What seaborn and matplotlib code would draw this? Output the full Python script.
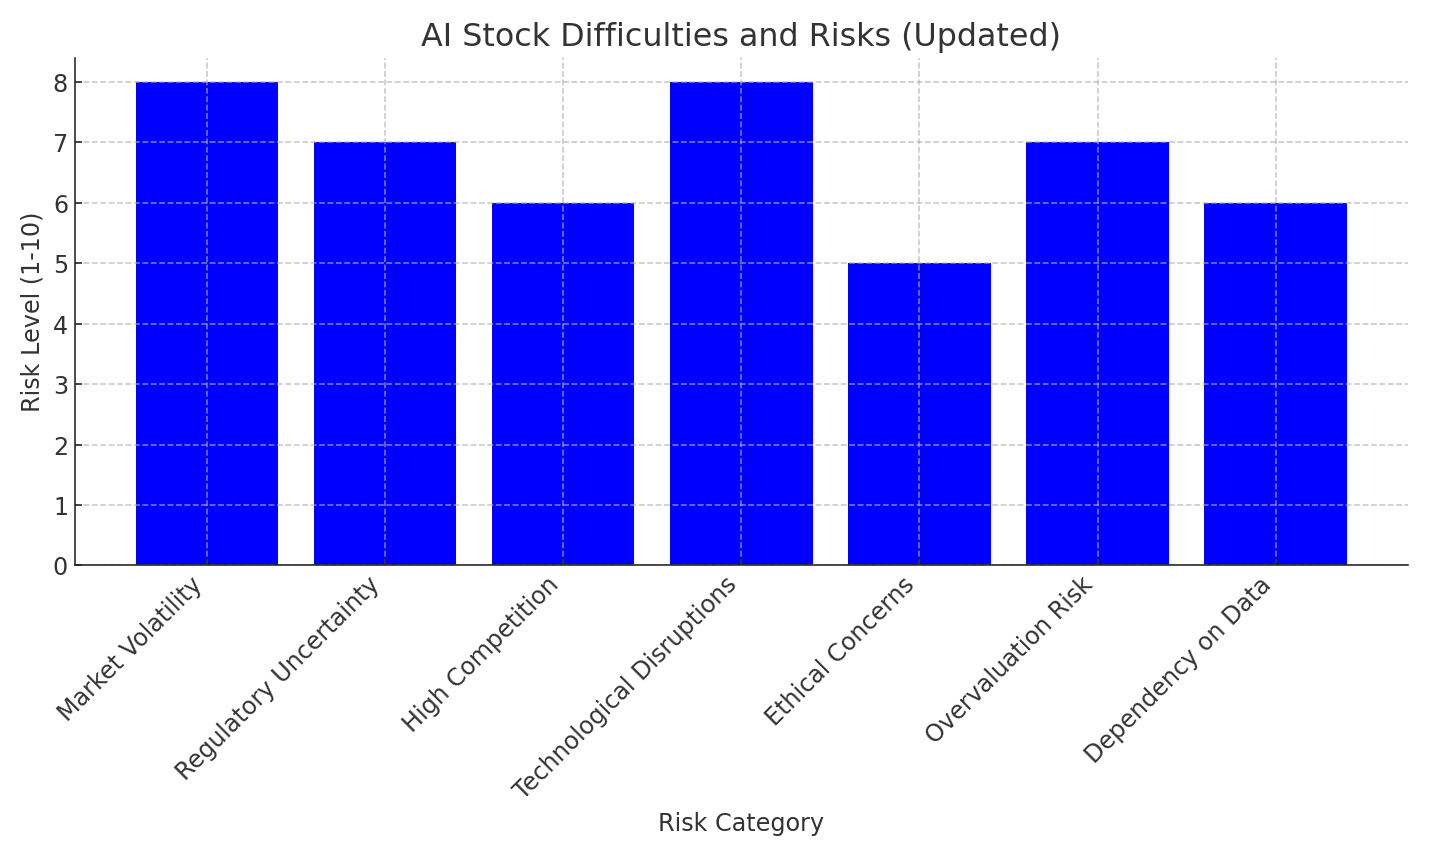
import matplotlib
matplotlib.use("Agg")
import matplotlib.pyplot as plt
import seaborn as sns
import pandas as pd

categories = ["Market Volatility", "Regulatory Uncertainty", "High Competition",
              "Technological Disruptions", "Ethical Concerns", "Overvaluation Risk",
              "Dependency on Data"]
risk_levels = [8, 7, 6, 8, 5, 7, 6]

df = pd.DataFrame({"Risk Category": categories, "Risk Level": risk_levels})

sns.set_style("ticks")
plt.rcParams['font.family'] = ['DejaVu Sans']
plt.rcParams['text.color'] = '#333333'
plt.rcParams['axes.labelcolor'] = '#333333'
plt.rcParams['xtick.color'] = '#333333'
plt.rcParams['ytick.color'] = '#333333'

fig, ax = plt.subplots(figsize=(10, 6), dpi=142.9)
fig.subplots_adjust(left=0.0525, right=0.985, top=0.932, bottom=0.34)

sns.barplot(data=df, x="Risk Category", y="Risk Level", color="blue",
            saturation=1, width=0.8, ax=ax)
for p in ax.patches:
    p.set_edgecolor("none")

ax.set_xlim(-0.74, 6.74)
ax.set_ylim(0, 8.4)
ax.set_title("AI Stock Difficulties and Risks (Updated)", fontsize=16)
ax.set_xlabel("Risk Category", fontsize=12)
ax.set_ylabel("Risk Level (1-10)", fontsize=12)
ax.tick_params(axis='both', labelsize=12, length=3.5, width=0.8, pad=3.5,
               direction='in', color='#222222')
plt.setp(ax.get_xticklabels(), rotation=45, ha='right')
ax.set_axisbelow(False)
ax.grid(True, linestyle='--', color='#b0b0b0', alpha=0.7, linewidth=0.8)
sns.despine(ax=ax)
for s in ["left", "bottom"]:
    ax.spines[s].set_color("#222222")
    ax.spines[s].set_zorder(5)

fig.savefig("out.png", dpi=142.9)
